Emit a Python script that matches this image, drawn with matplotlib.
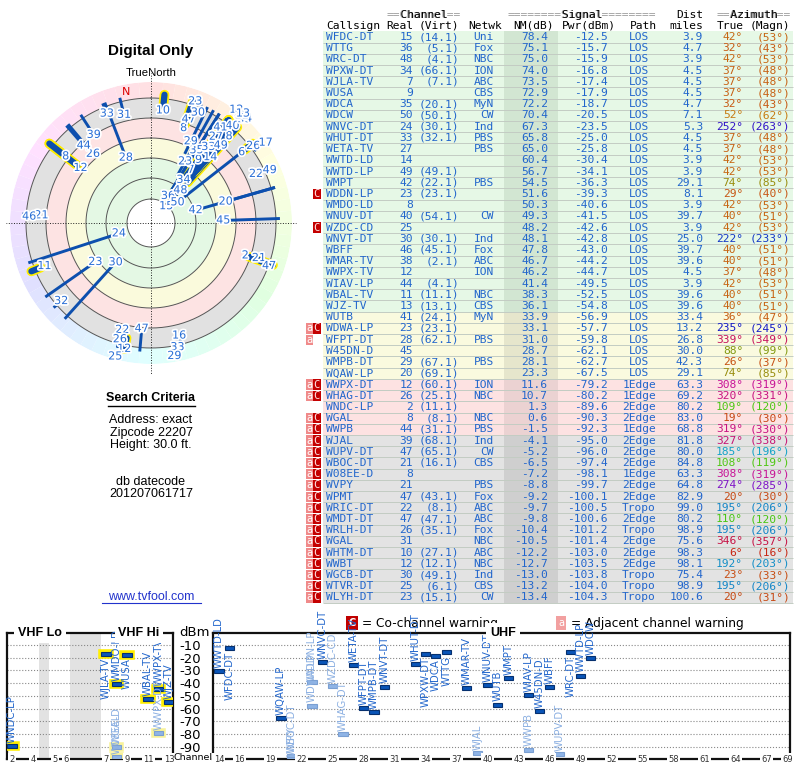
import colorsys
import numpy as np
import matplotlib
matplotlib.use('Agg')
import matplotlib.pyplot as plt
import matplotlib.patheffects as pe

plt.rcParams['font.family'] = ['DejaVu Sans']

# ---- station table ----
callsign = ['WFDC-DT', 'WTTG', 'WRC-DT', 'WPXW-DT', 'WJLA-TV', 'WUSA', 'WDCA', 'WDCW',
            'WNVC-DT', 'WHUT-DT', 'WETA-TV', 'WWTD-LD', 'WWTD-LP', 'WMPT', 'WDDN-LP',
            'WMDO-LD', 'WNUV-DT', 'WZDC-CD', 'WNVT-DT', 'WBFF', 'WMAR-TV', 'WWPX-TV',
            'WIAV-LP', 'WBAL-TV', 'WJZ-TV', 'WUTB', 'WDWA-LP', 'WFPT-DT', 'W45DN-D',
            'WMPB-DT', 'WQAW-LP', 'WWPX-DT', 'WHAG-DT', 'WNDC-LP', 'WGAL', 'WWPB', 'WJAL',
            'WUPV-DT', 'WBOC-DT', 'W08EE-D', 'WVPY', 'WPMT', 'WRIC-DT', 'WMDT-DT',
            'WRLH-DT', 'WGAL', 'WHTM-DT', 'WWBT', 'WGCB-DT', 'WTVR-DT', 'WLYH-DT']
real_ch = [15, 36, 48, 34, 7, 9, 35, 50, 24, 33, 27, 14, 49, 42, 23, 8, 40, 25, 30, 46, 38, 12,
           44, 11, 13, 41, 23, 28, 45, 29, 20, 12, 26, 2, 8, 44, 39, 47, 21, 8, 21, 47, 22, 47,
           26, 31, 10, 12, 30, 25, 23]
virt_ch = ['(14.1)', '(5.1)', '(4.1)', '(66.1)', '(7.1)', '', '(20.1)', '(50.1)', '(30.1)',
           '(32.1)', '', '', '(49.1)', '(22.1)', '(23.1)', '', '(54.1)', '', '(30.1)', '(45.1)',
           '(2.1)', '', '(4.1)', '(11.1)', '(13.1)', '(24.1)', '(23.1)', '(62.1)', '', '(67.1)',
           '(69.1)', '(60.1)', '(25.1)', '(11.1)', '(8.1)', '(31.1)', '(68.1)', '(65.1)',
           '(16.1)', '', '', '(43.1)', '(8.1)', '(47.1)', '(35.1)', '', '(27.1)', '(12.1)',
           '(49.1)', '(6.1)', '(15.1)']
network = ['Uni', 'Fox', 'NBC', 'ION', 'ABC', 'CBS', 'MyN', 'CW', 'Ind', 'PBS', 'PBS', '', '',
           'PBS', '', '', 'CW', '', 'Ind', 'Fox', 'ABC', 'ION', '', 'NBC', 'CBS', 'MyN', '',
           'PBS', '', 'PBS', '', 'ION', 'NBC', '', 'NBC', 'PBS', 'Ind', 'CW', 'CBS', '', 'PBS',
           'Fox', 'ABC', 'ABC', 'Fox', 'NBC', 'ABC', 'NBC', 'Ind', 'CBS', 'CW']
nm_db = [78.4, 75.1, 75.0, 74.0, 73.5, 72.9, 72.2, 70.4, 67.3, 65.8, 65.0, 60.4, 56.7, 54.5,
         51.6, 50.3, 49.3, 48.2, 48.1, 47.8, 46.7, 46.2, 41.4, 38.3, 36.1, 33.9, 33.1, 31.0,
         28.7, 28.1, 23.3, 11.6, 10.7, 1.3, 0.6, -1.5, -4.1, -5.2, -6.5, -7.2, -8.8, -9.2,
         -9.7, -9.8, -10.4, -10.5, -12.2, -12.7, -13.0, -13.2, -13.4]
pwr_dbm = [-12.5, -15.7, -15.9, -16.8, -17.4, -17.9, -18.7, -20.5, -23.5, -25.0, -25.8, -30.4,
           -34.1, -36.3, -39.3, -40.6, -41.5, -42.6, -42.8, -43.0, -44.2, -44.7, -49.5, -52.5,
           -54.8, -56.9, -57.7, -59.8, -62.1, -62.7, -67.5, -79.2, -80.2, -89.6, -90.3, -92.3,
           -95.0, -96.0, -97.4, -98.1, -99.7, -100.1, -100.5, -100.6, -101.2, -101.4, -103.0,
           -103.5, -103.8, -104.0, -104.3]
path = ['LOS'] * 31 + ['1Edge', '1Edge', '2Edge', '2Edge', '1Edge', '2Edge', '2Edge', '2Edge',
                       '1Edge', '2Edge', '2Edge', 'Tropo', '2Edge', 'Tropo', '2Edge', '2Edge',
                       '2Edge', 'Tropo', 'Tropo', 'Tropo']
dist_mi = [3.9, 4.7, 3.9, 4.5, 4.5, 4.5, 4.7, 7.1, 5.3, 4.5, 4.5, 3.9, 3.9, 29.1, 8.1, 3.9,
           39.7, 3.9, 25.0, 39.7, 39.6, 4.5, 3.9, 39.6, 39.6, 33.4, 13.2, 26.8, 30.0, 42.3,
           29.1, 63.3, 69.2, 80.2, 83.0, 68.8, 81.8, 80.0, 84.8, 63.3, 64.8, 82.9, 99.0, 80.2,
           98.9, 75.6, 98.3, 98.1, 75.4, 98.9, 100.6]
az_true = [42, 32, 42, 37, 37, 37, 32, 52, 252, 37, 37, 42, 42, 74, 29, 42, 40, 42, 222, 40,
           40, 37, 42, 40, 40, 36, 235, 339, 88, 26, 74, 308, 320, 109, 19, 319, 327, 185, 108,
           308, 274, 20, 195, 110, 195, 346, 6, 192, 23, 195, 20]
az_magn = [53, 43, 53, 48, 48, 48, 43, 62, 263, 48, 48, 53, 53, 85, 40, 53, 51, 53, 233, 51,
           51, 48, 53, 51, 51, 47, 245, 349, 99, 37, 85, 319, 331, 120, 30, 330, 338, 196, 119,
           319, 285, 30, 206, 120, 206, 357, 16, 203, 33, 206, 31]
warn_adj = [False] * 26 + [True, True, False, False, False, True, True, False] + [True] * 17
warn_co = ([False] * 14 + [True, False, False, True] + [False] * 8 + [True, False, False, False,
           False, True, True, False] + [True] * 17)
row_band = ['g'] * 25 + ['y'] * 6 + ['p'] * 5 + ['x'] * 15

# stations on the radar plot that are below the table
extra_ch = [33, 46, 11, 32, 16, 33, 29, 6, 26, 17, 22, 49]
extra_az = [338, 273, 248, 229, 166, 168, 170, 52, 53, 55, 65, 66]
extra_nm = [-17, -22, -14, -18, -15, -17, -19, -14, -18, -22, -15, -20]

vhf_ticks = [2, 4, 5, 6, 7, 9, 11, 13]
uhf_ticks = [14, 16, 19, 22, 25, 28, 31, 34, 37, 40, 43, 46, 49, 52, 55, 58, 61, 64, 67, 69]
dbm_grid = [-10, -20, -30, -40, -50, -60, -70, -80, -90]

TXT = '#2266cc'
LIGHT = '#8cb0e2'
LINE = '#0d4fae'
SANS = ['Liberation Sans', 'DejaVu Sans']
MONO = 'DejaVu Sans Mono'


def az_color(az):
    hue = np.interp(az, [0, 20, 42, 52, 74, 88, 108, 185, 222, 252, 274, 308, 339, 360],
                    [2, 18, 28, 35, 55, 70, 100, 192, 228, 250, 276, 316, 335, 360])
    v = 0.6 if 45 < hue < 90 else 0.78
    return colorsys.hsv_to_rgb(hue / 360, 0.9, v)


fig = plt.figure(figsize=(8, 7.68), dpi=100)
ax0 = fig.add_axes([0, 0, 1, 1])
ax0.set_xlim(0, 800)
ax0.set_ylim(768, 0)
ax0.axis('off')

# ---- table ----
n = len(callsign)
row_h = 11.21
row_y = 37 + row_h * np.arange(n)
bg = {'g': '#e6f8e6', 'y': '#fafadf', 'p': '#fde2e2', 'x': '#e3e3e3'}
bg_nm = {'g': '#d2e6d2', 'y': '#e6e6cc', 'p': '#ebd2d2', 'x': '#cfcfcf'}
ax0.barh(row_y, 470, left=323, height=row_h, color=[bg[b] for b in row_band])
ax0.barh(row_y, 54, left=504, height=row_h, color=[bg_nm[b] for b in row_band])
ax0.hlines(row_y + row_h / 2, 323, 793, color='#c3ccc3', lw=0.7)

fs = 8.1
for word, x0 in [('==Channel==', 387), ('========Signal========', 508), ('==Azimuth==', 717)]:
    ax0.text(x0, 14.5, word, family=MONO, fontsize=fs, color='#999999', va='center')
    ax0.text(x0, 14.5, ''.join(c if c != '=' else ' ' for c in word), family=MONO,
             fontsize=fs, color='black', va='center')
ax0.text(703, 14.5, 'Dist', family=MONO, fontsize=fs, ha='right', va='center')
for word, x0, ha in [('Callsign', 326, 'left'), ('Real', 413, 'right'), ('(Virt)', 459, 'right'),
                     ('Netwk', 468, 'left'), ('NM(dB)', 513, 'left'), ('Pwr(dBm)', 562, 'left'),
                     ('Path', 630, 'left'), ('miles', 703, 'right'), ('True', 717, 'left'),
                     ('(Magn)', 790, 'right')]:
    ax0.text(x0, 26, word, family=MONO, fontsize=fs, ha=ha, va='center')

for i in range(n):
    y = row_y[i]
    kw = dict(family=MONO, fontsize=fs, va='center', color=TXT)
    ax0.text(326, y, callsign[i], **kw)
    ax0.text(413, y, str(real_ch[i]), ha='right', **kw)
    ax0.text(459, y, virt_ch[i], ha='right', **kw)
    ax0.text(494, y, network[i], ha='right', **kw)
    ax0.text(548, y, '%.1f' % nm_db[i], ha='right', **kw)
    ax0.text(608, y, '%.1f' % pwr_dbm[i], ha='right', **kw)
    ax0.text(639, y, path[i], ha='center', **kw)
    ax0.text(703, y, '%.1f' % dist_mi[i], ha='right', **kw)
    kw['color'] = az_color(az_true[i])
    ax0.text(743, y, '%d°' % az_true[i], ha='right', **kw)
    ax0.text(790, y, '(%d°)' % az_magn[i], ha='right', **kw)

co_y = row_y[np.array(warn_co)]
adj_y = row_y[np.array(warn_adj)]
ax0.barh(co_y, 7.5, left=313, height=row_h - 1, color='#c40000')
ax0.barh(adj_y, 7.5, left=305.5, height=row_h - 1, color='#f08a8a')
for y in co_y:
    ax0.text(316.8, y, 'C', family=MONO, fontsize=7.5, color='#ffe0e0', ha='center', va='center')
for y in adj_y:
    ax0.text(309.3, y, 'a', family=MONO, fontsize=7.5, color='white', ha='center', va='center')

# ---- left column text ----
ax0.text(151, 51, 'Digital Only', family=SANS, fontsize=11, fontweight='bold',
         ha='center', va='center')
ax0.text(151, 398, 'Search Criteria', family=SANS, fontsize=9, fontweight='bold',
         ha='center', va='center')
ax0.plot([108, 195], [405.5, 405.5], color='black', lw=1)
for txt, y in [('Address: exact', 420), ('Zipcode 22207', 433), ('Height: 30.0 ft.', 445),
               ('db datecode', 482), ('201207061717', 494)]:
    ax0.text(151, y, txt, family=SANS, fontsize=9, ha='center', va='center')
ax0.text(151, 597, 'www.tvfool.com', family=SANS, fontsize=9, color='#2233cc',
         ha='center', va='center')
ax0.plot([102, 201], [603, 603], color='#2233cc', lw=0.8)

# ---- radar plot ----
axp = fig.add_axes([(151 - 141) / 800, 1 - (223 + 141) / 768, 282 / 800, 282 / 768],
                   projection='polar')
axp.set_theta_zero_location('N')
axp.set_theta_direction(-1)
axp.set_ylim(0, 141)
axp.set_axis_off()

seg = np.arange(0, 360, 5)
axp.bar(np.radians(seg + 2.5), 16, width=np.radians(5), bottom=125, linewidth=0,
        color=[colorsys.hsv_to_rgb(a / 360, 0.12, 1.0) for a in seg])
for r0, r1, col in [(0, 24, 'white'), (24, 65, '#e4f8e4'), (65, 85, '#fafadc'),
                    (85, 105, '#fde3e3'), (105, 125, '#e1e1e1')]:
    axp.bar(0, r1 - r0, width=2 * np.pi, bottom=r0, color=col, linewidth=0)
th = np.linspace(0, 2 * np.pi, 361)
for r in [24, 45, 65, 85, 105, 125]:
    axp.plot(th, np.full_like(th, r), color='#555555', lw=0.7)
for a, r in [(0, 150), (np.pi, 152), (np.pi / 2, 145), (3 * np.pi / 2, 145)]:
    axp.plot([a, a], [0, r], color='#222222', lw=0.7, ls=':', clip_on=False)
axp.text(np.radians(-11), 133, 'N', color='#dd0000', fontsize=8, ha='center', va='center')
axp.text(0, 150, 'TrueNorth', family=SANS, fontsize=8.2, ha='center', va='center')

all_ch = np.array(real_ch + extra_ch)
all_az = np.array(az_true + extra_az, dtype=float)
all_nm = np.array(nm_db + extra_nm, dtype=float)
tip = np.clip(105 - all_nm, 24, 126)
vhf = all_ch <= 13
for i in np.where(vhf)[0]:
    t = np.radians(all_az[i])
    axp.plot([t, t], [tip[i], 129], color=LINE, lw=4.5, solid_capstyle='round',
             path_effects=[pe.Stroke(linewidth=7, foreground='#ffee00'), pe.Normal()])
for i in np.where(~vhf)[0]:
    t = np.radians(all_az[i])
    axp.plot([t, t], [tip[i], 129], color=LINE, lw=2.1, solid_capstyle='butt')

placed = []
for i in np.argsort(-all_nm):
    t = np.radians(all_az[i])
    r = max(tip[i] - 4, 16)
    while True:
        x, y = r * np.sin(t), r * np.cos(t)
        if r > 140 or all(((x - px) / 12) ** 2 + ((y - py) / 9) ** 2 > 1 for px, py in placed):
            break
        r += 3
    placed.append((x, y))
    axp.text(t, r, str(all_ch[i]), fontsize=8, color='#2a6fd6', ha='center', va='center',
             path_effects=[pe.withStroke(linewidth=2.5, foreground='white')])

# ---- spectrum chart ----
def vhf_slot(ch):
    return ch + (1.1 if ch >= 5 else 0) + (2.85 if ch >= 7 else 0)


axv = fig.add_axes([7 / 800, 1 - 759 / 768, 166 / 800, 126 / 768])
axu = fig.add_axes([213 / 800, 1 - 759 / 768, 577 / 800, 126 / 768])
axv.set_xlim(1.52, 17.33)
axu.set_xlim(13.42, 69.27)
for ax in (axv, axu):
    ax.set_facecolor('none')
    ax.set_ylim(-99.7, -0.6)
    ax.set_xticks([])
    ax.set_yticks(dbm_grid)
    ax.tick_params(length=0)
    ax.grid(axis='y', ls=':', color='#888888', lw=0.8)
    for s in ax.spines.values():
        s.set_linewidth(1.6)
        s.set_color('#111111')
axv.set_yticklabels([])
axu.set_yticklabels([str(v) for v in dbm_grid], fontsize=9.5)
axu.tick_params(axis='y', pad=9)
axv.axvspan(4.57, 5.52, color='#e2e2e2', lw=0)
axv.axvspan(7.52, 10.48, color='#e2e2e2', lw=0)

tb = dict(boxstyle='square,pad=0.15', fc='white', ec='none')
for c in vhf_ticks:
    axv.text(vhf_slot(c), -99.7, str(c), fontsize=6, ha='center', va='center', color='#333333',
             bbox=tb, clip_on=False, zorder=5)
for c in uhf_ticks:
    axu.text(c, -99.7, str(c), fontsize=6, ha='center', va='center', color='#333333',
             bbox=tb, clip_on=False, zorder=5)
tb2 = dict(boxstyle='square,pad=0.3', fc='white', ec='none')
axv.text(4.67, -0.6, 'VHF Lo', family=SANS, fontsize=9, fontweight='bold', ha='center',
         va='center', bbox=tb2, clip_on=False, zorder=5)
axv.text(14.1, -0.6, 'VHF Hi', family=SANS, fontsize=9, fontweight='bold', ha='center',
         va='center', bbox=tb2, clip_on=False, zorder=5)
axu.text(41.5, -0.6, 'UHF', family=SANS, fontsize=9, fontweight='bold', ha='center',
         va='center', bbox=tb2, clip_on=False, zorder=5)
axu.text(195, 633, 'dBm', fontsize=9.5, ha='center', va='center', transform=ax0.transData,
         clip_on=False, zorder=6)
axu.text(193, 757, 'Channel', fontsize=6.8, ha='center', va='center', transform=ax0.transData,
         clip_on=False, zorder=6)

for i in range(n):
    p = pwr_dbm[i]
    if p <= -100:
        continue
    ch = real_ch[i]
    ax, x = (axv, vhf_slot(ch)) if ch <= 13 else (axu, ch)
    light = warn_co[i]
    fc, ec, tc = ('#8fb4e6', '#7a9fd2', LIGHT) if light else ('#0a55b8', '#06306e', TXT)
    eff = None
    if ch <= 13:
        eff = [pe.Stroke(linewidth=4, foreground='#f8f29a' if light else '#ffee00'), pe.Normal()]
    ax.bar(x, 3.2, bottom=p - 1.6, width=0.88, color=fc, edgecolor=ec, lw=0.8, zorder=3,
           path_effects=eff)
    if p > -20:
        ax.text(x, p - 2.6, callsign[i], rotation=90, ha='center', va='top', fontsize=7.3,
                color=tc, clip_on=False, zorder=4)
    else:
        ax.text(x, p + 2.6, callsign[i], rotation=90, ha='center', va='bottom', fontsize=7.3,
                color=tc, clip_on=False, zorder=4)

# legend
ax0.text(352, 623, 'C', fontsize=7, color='white', fontweight='bold', ha='center', va='center',
         bbox=dict(boxstyle='square,pad=0.2', fc='#c00000', ec='none'))
ax0.text(362, 623, '= Co-channel warning', fontsize=8.8, ha='left', va='center')
ax0.text(561, 623, 'a', fontsize=7, color='white', ha='center', va='center',
         bbox=dict(boxstyle='square,pad=0.2', fc='#f2a0a0', ec='none'))
ax0.text(571, 623, '= Adjacent channel warning', fontsize=8.8, ha='left', va='center')

fig.savefig('out.png', dpi=100)
